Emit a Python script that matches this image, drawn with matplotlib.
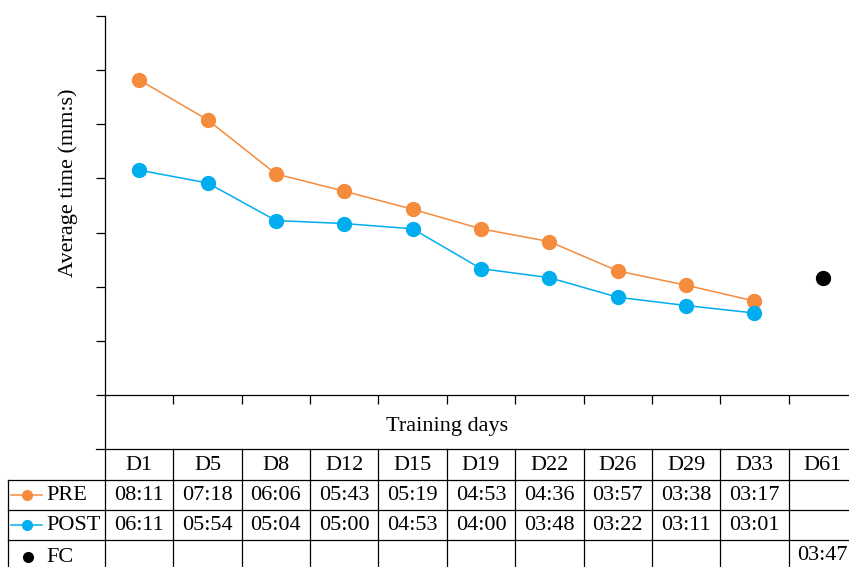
import matplotlib
matplotlib.use('Agg')
import matplotlib.pyplot as plt
import matplotlib.transforms as mtransforms
import numpy as np

# --- Daten ---
days = ['D1', 'D5', 'D8', 'D12', 'D15', 'D19', 'D22', 'D26', 'D29', 'D33', 'D61']
pre_times = ['08:11', '07:18', '06:06', '05:43', '05:19', '04:53', '04:36', '03:57', '03:38', '03:17']
post_times = ['06:11', '05:54', '05:04', '05:00', '04:53', '04:00', '03:48', '03:22', '03:11', '03:01']
fc_day = 'D61'
fc_time = '03:47'

orange = '#F58B3C'
blue = '#00AEEF'


def to_sec(t):
    m, s = t.split(':')
    return int(m) * 60 + int(s)


plt.rcParams['font.family'] = 'Liberation Serif'
plt.rcParams['font.size'] = 16

W, H = 849, 567
fig = plt.figure(figsize=(W / 100, H / 100), dpi=100)

# Hauptachse (Pixelgrenzen aus der Vorlage)
left, right, top, bottom = 105, 857, 16, 395
ax = fig.add_axes([left / W, 1 - bottom / H, (right - left) / W, (bottom - top) / H])
# Overlay-Achse in Pixelkoordinaten fuer die Tabelle
tab = fig.add_axes([0, 0, 1, 1], zorder=-1)
tab.set_xlim(0, W)
tab.set_ylim(H, 0)
tab.axis('off')

x = np.arange(len(days))
pre_s = [to_sec(t) for t in pre_times]
post_s = [to_sec(t) for t in post_times]

ax.plot(x[:len(pre_s)], pre_s, color=orange, lw=1.1, marker='o', ms=10, label='PRE', clip_on=False)
ax.plot(x[:len(post_s)], post_s, color=blue, lw=1.1, marker='o', ms=10, label='POST', clip_on=False)
ax.plot([days.index(fc_day)], [to_sec(fc_time)], 'o', color='black', ms=10, clip_on=False)

ax.set_xlim(-0.5, len(days) - 0.5)
ax.set_ylim(72, 576)
ax.set_yticks(np.arange(72, 577, 72))
ax.set_yticklabels([])
ax.set_xticks(np.arange(0.5, len(days) - 1, 1))
ax.set_xticklabels([])
ax.tick_params(axis='both', direction='out', length=6.5, width=0.9, color='black')
for side in ['top', 'right']:
    ax.spines[side].set_visible(False)
for side in ['left', 'bottom']:
    ax.spines[side].set_linewidth(0.9)
ax.patch.set_alpha(0)

fig.text(68 / W, 1 - 183 / H, 'Average time (mm:s)', rotation=90, ha='center', va='center')

# --- Tabelle unter der Achse ---
tr = mtransforms.blended_transform_factory(ax.transData, tab.transData)
lw = 0.9
tab.plot([left, left], [bottom, H], color='black', lw=lw)
tab.plot([96, W], [449, 449], color='black', lw=lw)
for yy in [480, 510, 540]:
    tab.plot([8, W], [yy, yy], color='black', lw=lw)
tab.plot([8, 8], [480, H], color='black', lw=lw)
for b in np.arange(0.5, len(days) - 0.5, 1):
    tab.plot([b, b], [449, H], color='black', lw=lw, transform=tr)

tab.text(447, 426, 'Training days', ha='center', va='center')

row_y = {'day': 465, 'pre': 495, 'post': 525, 'fc': 557}
for i, d in enumerate(days):
    tab.text(i, row_y['day'], d, ha='center', va='center', transform=tr)
for i, t in enumerate(pre_times):
    tab.text(i, row_y['pre'], t, ha='center', va='center', transform=tr)
for i, t in enumerate(post_times):
    tab.text(i, row_y['post'], t, ha='center', va='center', transform=tr)
tab.text(days.index(fc_day), 555, fc_time, ha='center', va='center', transform=tr)

# Zeilenbeschriftungen mit Legendensymbolen
for key, lab, col in [('pre', 'PRE', orange), ('post', 'POST', blue)]:
    yy = row_y[key]
    tab.plot([11, 42], [yy, yy], color=col, lw=1.1)
    tab.plot([27], [yy], 'o', color=col, ms=7)
    tab.text(46, yy, lab, ha='left', va='center')
tab.plot([28], [row_y['fc']], 'o', color='black', ms=7)
tab.text(46, row_y['fc'], 'FC', ha='left', va='center')

fig.savefig('out.png', dpi=100)
